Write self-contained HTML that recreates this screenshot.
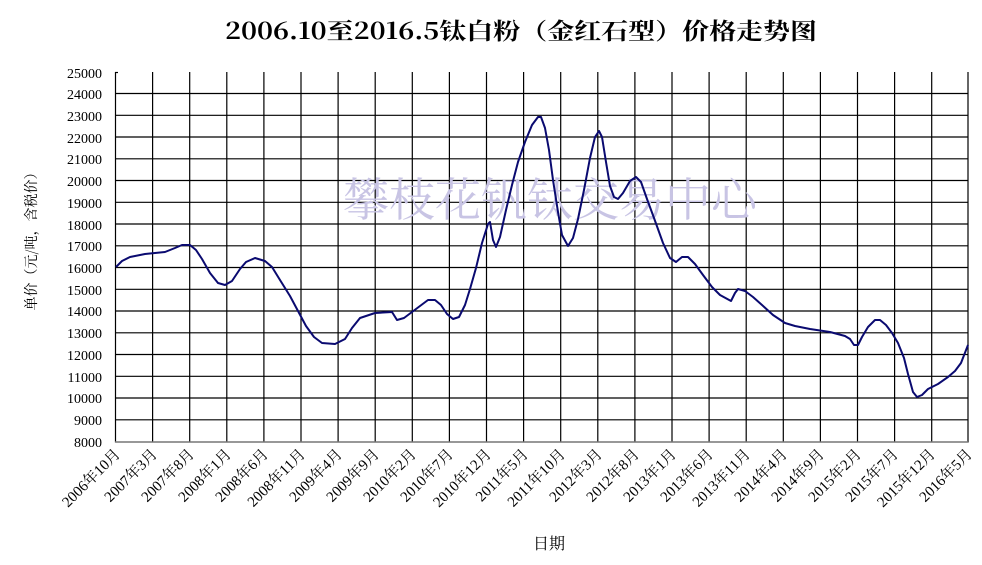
<!DOCTYPE html>
<html><head><meta charset="utf-8"><style>
body{margin:0;background:#fff;}
svg{display:block;}
</style></head><body>
<svg width="982" height="565" xmlns="http://www.w3.org/2000/svg">
<rect width="982" height="565" fill="#fff"/>
<text x="225" y="39" textLength="592" lengthAdjust="spacingAndGlyphs" font-family="'Noto Serif CJK SC',serif" font-size="23" font-weight="bold">2006.10至2016.5钛白粉（金红石型）价格走势图</text>
<g stroke="#000" stroke-width="1.2">
<line x1="115.5" y1="72" x2="115.5" y2="442.5"/>
<line x1="152.6" y1="72" x2="152.6" y2="442.5"/><line x1="189.7" y1="72" x2="189.7" y2="442.5"/><line x1="226.8" y1="72" x2="226.8" y2="442.5"/><line x1="263.9" y1="72" x2="263.9" y2="442.5"/><line x1="301" y1="72" x2="301" y2="442.5"/><line x1="338.1" y1="72" x2="338.1" y2="442.5"/><line x1="375.2" y1="72" x2="375.2" y2="442.5"/><line x1="412.3" y1="72" x2="412.3" y2="442.5"/><line x1="449.4" y1="72" x2="449.4" y2="442.5"/><line x1="486.5" y1="72" x2="486.5" y2="442.5"/><line x1="523.6" y1="72" x2="523.6" y2="442.5"/><line x1="560.7" y1="72" x2="560.7" y2="442.5"/><line x1="597.8" y1="72" x2="597.8" y2="442.5"/><line x1="634.9" y1="72" x2="634.9" y2="442.5"/><line x1="672" y1="72" x2="672" y2="442.5"/><line x1="709.1" y1="72" x2="709.1" y2="442.5"/><line x1="746.2" y1="72" x2="746.2" y2="442.5"/><line x1="783.3" y1="72" x2="783.3" y2="442.5"/><line x1="820.4" y1="72" x2="820.4" y2="442.5"/><line x1="857.5" y1="72" x2="857.5" y2="442.5"/><line x1="894.6" y1="72" x2="894.6" y2="442.5"/><line x1="931.7" y1="72" x2="931.7" y2="442.5"/><line x1="968" y1="72" x2="968" y2="442.5"/>
<line x1="115" y1="72.5" x2="118" y2="72.5"/>
<line x1="115" y1="93.5" x2="968" y2="93.5"/><line x1="115" y1="115.3" x2="968" y2="115.3"/><line x1="115" y1="137" x2="968" y2="137"/><line x1="115" y1="158.8" x2="968" y2="158.8"/><line x1="115" y1="180.5" x2="968" y2="180.5"/><line x1="115" y1="202.3" x2="968" y2="202.3"/><line x1="115" y1="224" x2="968" y2="224"/><line x1="115" y1="245.8" x2="968" y2="245.8"/><line x1="115" y1="267.5" x2="968" y2="267.5"/><line x1="115" y1="289.3" x2="968" y2="289.3"/><line x1="115" y1="311" x2="968" y2="311"/><line x1="115" y1="332.8" x2="968" y2="332.8"/><line x1="115" y1="354.5" x2="968" y2="354.5"/><line x1="115" y1="376.3" x2="968" y2="376.3"/><line x1="115" y1="398" x2="968" y2="398"/><line x1="115" y1="419.8" x2="968" y2="419.8"/><line x1="115" y1="442" x2="968" y2="442" stroke="#777" stroke-width="1.6"/>
</g>
<text x="550" y="216" text-anchor="middle" font-family="'Noto Serif CJK SC',serif" font-size="46" fill="#c8c4e4">攀枝花钒钛交易中心</text>
<g font-family="Liberation Serif,serif" font-size="14" text-anchor="end">
<text x="102" y="78">25000</text><text x="102" y="99">24000</text><text x="102" y="121">23000</text><text x="102" y="143">22000</text><text x="102" y="164">21000</text><text x="102" y="186">20000</text><text x="102" y="208">19000</text><text x="102" y="230">18000</text><text x="102" y="251">17000</text><text x="102" y="273">16000</text><text x="102" y="295">15000</text><text x="102" y="316">14000</text><text x="102" y="338">13000</text><text x="102" y="360">12000</text><text x="102" y="382">11000</text><text x="102" y="403">10000</text><text x="102" y="425">9000</text><text x="102" y="447">8000</text>
</g>
<text transform="translate(36,238) rotate(-90)" text-anchor="middle" font-family="'Noto Serif CJK SC',serif" font-size="14">单价（元/吨，含税价）</text>
<text x="549" y="549" text-anchor="middle" font-family="'Noto Serif CJK SC',serif" font-size="16">日期</text>
<g font-family="Liberation Serif,'Noto Serif CJK SC',serif" font-size="15" text-anchor="end">
<text transform="translate(121,455) rotate(-45)">2006年10月</text>
<text transform="translate(158,455) rotate(-45)">2007年3月</text>
<text transform="translate(195,455) rotate(-45)">2007年8月</text>
<text transform="translate(232,455) rotate(-45)">2008年1月</text>
<text transform="translate(269,455) rotate(-45)">2008年6月</text>
<text transform="translate(306,455) rotate(-45)">2008年11月</text>
<text transform="translate(343,455) rotate(-45)">2009年4月</text>
<text transform="translate(380,455) rotate(-45)">2009年9月</text>
<text transform="translate(417,455) rotate(-45)">2010年2月</text>
<text transform="translate(454,455) rotate(-45)">2010年7月</text>
<text transform="translate(492,455) rotate(-45)">2010年12月</text>
<text transform="translate(529,455) rotate(-45)">2011年5月</text>
<text transform="translate(566,455) rotate(-45)">2011年10月</text>
<text transform="translate(603,455) rotate(-45)">2012年3月</text>
<text transform="translate(640,455) rotate(-45)">2012年8月</text>
<text transform="translate(677,455) rotate(-45)">2013年1月</text>
<text transform="translate(714,455) rotate(-45)">2013年6月</text>
<text transform="translate(751,455) rotate(-45)">2013年11月</text>
<text transform="translate(788,455) rotate(-45)">2014年4月</text>
<text transform="translate(825,455) rotate(-45)">2014年9月</text>
<text transform="translate(862,455) rotate(-45)">2015年2月</text>
<text transform="translate(899,455) rotate(-45)">2015年7月</text>
<text transform="translate(936,455) rotate(-45)">2015年12月</text>
<text transform="translate(973,455) rotate(-45)">2016年5月</text>
</g>
<polyline fill="none" stroke="#0a0a70" stroke-width="2" stroke-linejoin="round" points="116,267 122,261 130,257 145,254 165,252 175,248 182,245 190,245 196,250 202,259 210,273 218,283 225,285 232,281 240,269 246,262 255,258 265,261 272,267 280,280 290,296 298,311 306,326 314,337 322,343 335,344 345,339 352,328 360,318 375,313 392,312 397,320 404,318 412,312 420,306 428,300 435,300 441,305 447,314 453,319 459,317 465,305 470,289 476,268 482,243 488,224 490,222 493,240 496,247 500,237 506,210 512,185 518,162 525,142 532,125 538,117 541,117 545,128 549,150 553,180 558,212 562,235 568,246 573,238 578,219 584,190 590,158 595,137 599,131 602,137 606,162 610,186 614,197 618,199 623,193 630,181 636,177 641,182 647,199 654,218 663,243 670,258 676,262 682,257 688,257 695,264 703,275 712,287 720,295 731,301 735,293 738,289 745,291 753,297 762,305 773,315 785,323 795,326 810,329 830,332 845,336 850,339 854,345 858,345 862,337 868,327 875,320 880,320 886,325 892,333 898,343 904,358 908,374 913,392 917,397 922,395 928,389 938,384 948,377 955,371 961,363 968,345"/>
</svg>
</body></html>
